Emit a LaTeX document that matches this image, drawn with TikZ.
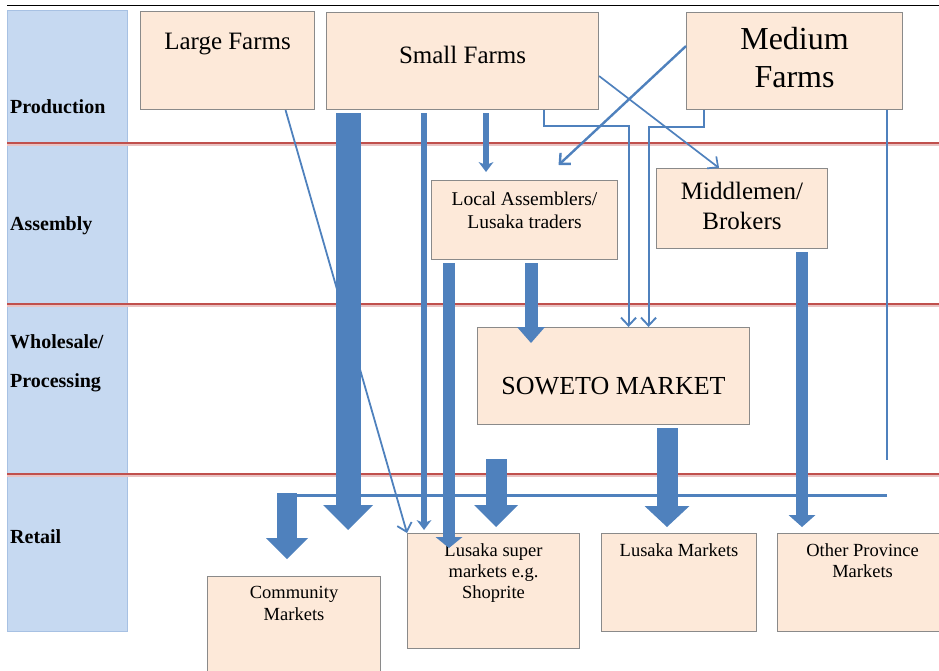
\documentclass[tikz,border=0pt]{standalone}
\usepackage{fontspec}
\setmainfont{Liberation Serif}
\usetikzlibrary{arrows.meta, positioning}

\definecolor{boxfill}{HTML}{FDE9D9}
\definecolor{boxline}{HTML}{8A8A8A}
\definecolor{stagefill}{HTML}{C6D9F1}
\definecolor{stageline}{HTML}{A7C1E3}
\definecolor{flow}{HTML}{4F81BD}
\definecolor{divider}{HTML}{C0504D}
\definecolor{dividerglow}{HTML}{E9C3C3}

\tikzset{
  farm/.style={draw=boxline, fill=boxfill, line width=1.1pt, inner sep=0pt, anchor=north west},
  boxtext/.style 2 args={inner sep=0pt, align=center, font=\fontsize{#1}{#2}\selectfont},
  stage/.style={anchor=base west, inner sep=0pt, font=\fontsize{20}{24}\selectfont\bfseries},
  flowfat/.style n args={3}{draw=flow, line width=#1, shorten <=3pt, -{Triangle[width=#2, length=#3, line width=0pt]}},
  flowslim/.style={draw=flow, line width=5.5pt, shorten <=3pt, -{Stealth[width=15pt, length=10pt, inset=3pt, line width=0pt]}},
  flowline/.style={draw=flow, line width=#1},
  flowbarb/.style={draw=flow, line width=#1, -{Straight Barb[length=8pt, width=15pt]}}
}

\begin{document}
\begin{tikzpicture}[x=1pt, y=-1pt]
  \useasboundingbox (0,0) rectangle (939,671);

  % stage column and dividers
  \filldraw[fill=stagefill, draw=stageline, line width=0.8pt] (7,10) rectangle (127,631);
  \draw[line width=1.4pt] (7,5.5) -- (939,5.5);
  \foreach \y in {143,304,474} {
    \draw[dividerglow, line width=4.5pt] (7,\y+1) -- (939,\y+1);
    \draw[divider, line width=2.4pt] (7,\y) -- (939,\y);
  }

  \node[stage] (prod) at (10,114) {Production};
  \node[stage] (asm) at (10,230) {Assembly};
  \node[stage] (whole) at (10,348) {Wholesale/};
  \node[stage] (proc) at (10,387) {Processing};
  \node[stage] (ret) at (10,543) {Retail};

  % boxes
  \node[farm, minimum width=174pt, minimum height=98pt] (large) at (140,11) {};
  \node[farm, minimum width=272pt, minimum height=97pt] (small) at (326,12) {};
  \node[farm, minimum width=216pt, minimum height=97pt] (medium) at (686,12) {};
  \node[farm, minimum width=186pt, minimum height=79pt] (assem) at (431,180) {};
  \node[farm, minimum width=171pt, minimum height=80pt] (broker) at (656,168) {};
  \node[farm, minimum width=272pt, minimum height=97pt] (soweto) at (477,327) {};
  \node[farm, minimum width=173pt, minimum height=110pt] (comm) at (207,576) {};
  \node[farm, minimum width=172pt, minimum height=115pt] (lsup) at (407,533) {};
  \node[farm, minimum width=155pt, minimum height=98pt] (lmkt) at (601,533) {};
  \node[farm, minimum width=170pt, minimum height=98pt] (oprov) at (777,533) {};

  \node[boxtext={25}{30}, below=22pt of large.north] (large-t) {Large Farms};
  \node[boxtext={25}{30}, below=34pt of small.north] (small-t) {Small Farms};
  \node[boxtext={32}{38}, below=15pt of medium.north] (medium-t) {Medium\\Farms};
  \node[boxtext={19.5}{23}, below=12pt of assem.north] (assem-t) {Local Assemblers/\\Lusaka traders};
  \node[boxtext={25}{30}, below=13.5pt of broker.north] (broker-t) {Middlemen/\\Brokers};
  \node[boxtext={26}{30}, below=50pt of soweto.north] (soweto-t) {SOWETO MARKET};
  \node[boxtext={18.5}{22}, below=10pt of comm.north] (comm-t) {Community\\Markets};
  \node[boxtext={18.5}{21}, below=10.5pt of lsup.north] (lsup-t) {Lusaka super\\markets e.g.\\Shoprite};
  \node[boxtext={18.5}{21}, below=10pt of lmkt.north] (lmkt-t) {Lusaka Markets};
  \node[boxtext={18.5}{21}, below=10pt of oprov.north] (oprov-t) {Other Province\\Markets};

  % arrow ends
  \coordinate (t-big) at (348,530);
  \coordinate (t-thin) at (424,530);
  \coordinate (t-la) at (449,548);
  \coordinate (t-sa) at (486,172);
  \coordinate (t-ls) at (531,343);
  \coordinate (t-sw) at (667,527);
  \coordinate (t-mo) at (802,527);
  \coordinate (s-rt) at (496,456);
  \coordinate (t-rt) at (496,527);
  \coordinate (s-cm) at (287,490);
  \coordinate (t-cm) at (287,559);
  \coordinate (r-end) at (887,460);
  \coordinate (h-end) at (887,495);
  \coordinate (h-start) at (277,495);

  % retail feeder line
  \draw[flowline=3pt] (h-end) -- (h-start);
  \draw[flowline=2.4pt] (medium.south -| r-end) -- (r-end);

  % block arrows
  \draw[flowfat={25pt}{50pt}{25pt}] (small.south -| t-big) -- (t-big);
  \draw[flowslim] (small.south -| t-thin) -- (t-thin);
  \draw[flowslim] (small.south -| t-sa) -- (t-sa);
  \draw[flowfat={12pt}{27pt}{11pt}] (assem.south -| t-la) -- (t-la);
  \draw[flowfat={13pt}{28pt}{16pt}] (assem.south -| t-ls) -- (t-ls);
  \draw[flowfat={21pt}{45pt}{21pt}] (soweto.south -| t-sw) -- (t-sw);
  \draw[flowfat={12pt}{27pt}{12pt}] (broker.south -| t-mo) -- (t-mo);
  \draw[flowfat={21pt}{44pt}{22pt}] (s-rt) -- (t-rt);
  \draw[flowfat={20pt}{42pt}{21pt}] (s-cm) -- (t-cm);

  % thin connectors
  \draw[flowbarb=1.8pt] ([xshift=58pt]large.south) -- (lsup.north west);
  \draw[flowbarb=2.4pt] ([yshift=15pt]medium.west) -- ([xshift=34pt, yshift=15pt]assem.north);
  \draw[flowbarb=1.7pt] ([yshift=-15pt]small.east) -- ([xshift=-23pt]broker.north);
  \draw[flowbarb=1.9pt] ([xshift=81pt]small.south) -- ++(0,16) -| ([xshift=15pt]soweto.north);
  \draw[flowbarb=1.9pt] ([xshift=-91pt]medium.south) -- ++(0,17) -| ([xshift=35pt]soweto.north);
\end{tikzpicture}
\end{document}
